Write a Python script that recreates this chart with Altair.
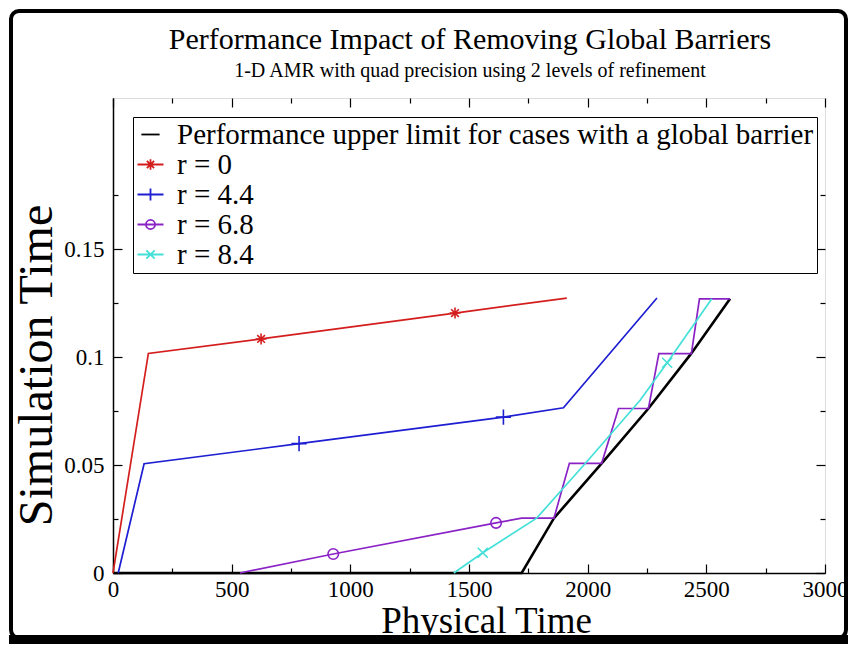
import altair as alt
import pandas as pd

# ---------------- data ----------------
title_text = "Performance Impact of Removing Global Barriers"
subtitle_text = "1-D AMR with quad precision using 2 levels of refinement"
names = ["Performance upper limit for cases with a global barrier",
         "r = 0", "r = 4.4", "r = 6.8", "r = 8.4"]
colors = ["#000000", "#d41e1e", "#1e1ed2", "#8a22c6", "#44e0d8"]

black_x = [0, 1722, 1858, 2059, 2256, 2436, 2600]
black_y = [0, 0, 0.0254, 0.0508, 0.0762, 0.1016, 0.127]

red_x = [0, 149, 624, 1441, 1912]
red_y = [0, 0.1017, 0.1084, 0.1204, 0.1273]

blue_x = [22, 131, 784, 1645, 1898, 2292]
blue_y = [0, 0.0506, 0.0599, 0.0722, 0.0765, 0.1274]

purple_x = [535, 928, 1614, 1722, 1858, 1923, 2059, 2130, 2256, 2300, 2437, 2471, 2600]
purple_y = [0, 0.0088, 0.0232, 0.0254, 0.0254, 0.0508, 0.0508, 0.0762, 0.0762,
            0.1016, 0.1016, 0.127, 0.127]

cyan_x = [1436, 1558, 1785, 2000, 2221, 2335, 2523]
cyan_y = [0, 0.0094, 0.0254, 0.052, 0.080, 0.0974, 0.127]

# symbols drawn on the curves
red_mx, red_my = [624, 1441], [0.1084, 0.1204]
blue_mx, blue_my = [784, 1645], [0.0599, 0.0722]
purple_mx, purple_my = [928, 1614], [0.0088, 0.0232]
cyan_mx, cyan_my = [1558, 2335], [0.0094, 0.0974]

x_major = [0, 500, 1000, 1500, 2000, 2500, 3000]
x_minor = [250, 750, 1250, 1750, 2250, 2750]
y_major = [0, 0.05, 0.1, 0.15]
y_minor = [0.025, 0.075, 0.125, 0.175]

# ---------------- helpers ----------------
FONT = "Liberation Serif"
XS = alt.Scale(domain=[0, 3000], nice=False, zero=False)
YS = alt.Scale(domain=[0, 0.22], nice=False, zero=False)

STAR = "M-1,0L1,0M0,-1L0,1M-0.7,-0.7L0.7,0.7M-0.7,0.7L0.7,-0.7"
PLUS = "M-1,0L1,0M0,-1L0,1"
XMARK = "M-1,-1L1,1M-1,1L1,-1"

LEG = [
    "M-0.7,0L0.7,0",
    "M-1,0L1,0M0,-0.4L0,0.4M-0.28,-0.28L0.28,0.28M-0.28,0.28L0.28,-0.28",
    "M-1,0L1,0M0,-0.47L0,0.47",
    "M-1,0L1,0M-0.35,0A0.35,0.35 0 1,0 0.35,0A0.35,0.35 0 1,0 -0.35,0",
    "M-1,0L1,0M-0.32,-0.32L0.32,0.32M-0.32,0.32L0.32,-0.32",
]

series = [(names[0], black_x, black_y), (names[1], red_x, red_y),
          (names[2], blue_x, blue_y), (names[3], purple_x, purple_y),
          (names[4], cyan_x, cyan_y)]

rows = []
for name, xs, ys in series:
    for i, (a, b) in enumerate(zip(xs, ys)):
        rows.append({"series": name, "x": a, "y": b, "o": i})
all_df = pd.DataFrame(rows)


def line_layer(idx, width):
    name, xs, ys = series[idx]
    df = pd.DataFrame({"x": xs, "y": ys, "o": list(range(len(xs)))})
    return alt.Chart(df).mark_line(color=colors[idx], strokeWidth=width).encode(
        x=alt.X("x:Q", scale=XS, axis=None),
        y=alt.Y("y:Q", scale=YS, axis=None),
        order="o:Q",
    )


def marker_layer(mx, my, color, shape, size):
    df = pd.DataFrame({"x": mx, "y": my})
    return alt.Chart(df).mark_point(shape=shape, filled=False, color=color,
                                    size=size, strokeWidth=1.6, opacity=1).encode(
        x=alt.X("x:Q", scale=XS, axis=None),
        y=alt.Y("y:Q", scale=YS, axis=None),
    )


def axis_layer(xaxis, yaxis):
    return alt.Chart(all_df).mark_point(opacity=0).encode(
        x=alt.X("x:Q", scale=XS, axis=xaxis),
        y=alt.Y("y:Q", scale=YS, axis=yaxis),
    )


def tick_axis(orient, values, size):
    return alt.Axis(orient=orient, values=values, tickSize=size, offset=-size,
                    labels=False, domain=False, grid=False, title=None,
                    ticks=True, tickColor="black", tickWidth=1.2)


# main axes with labels
main_axes = axis_layer(
    alt.Axis(orient="bottom", values=x_major, ticks=False, tickSize=0, format="d",
             labelFont=FONT, labelFontSize=23, labelColor="black",
             labelPadding=5, labelFlush=False,
             domain=True, domainColor="black", domainWidth=1.5, grid=False,
             title="Physical Time", titleFont=FONT, titleFontSize=37,
             titleFontWeight="normal", titleColor="black", titlePadding=2,
             titleX=373, titleAlign="center"),
    alt.Axis(orient="left", values=y_major, ticks=False, tickSize=0, format="~g",
             labelFont=FONT, labelFontSize=23, labelColor="black",
             labelPadding=9, labelFlush=False,
             domain=True, domainColor="black", domainWidth=1.5, grid=False,
             title="Simulation Time", titleFont=FONT, titleFontSize=48,
             titleFontWeight="normal", titleColor="black", titlePadding=2,
             titleY=267, titleAlign="center"),
)
maj_bl = axis_layer(tick_axis("bottom", x_major, 9), tick_axis("left", y_major, 9))
min_bl = axis_layer(tick_axis("bottom", x_minor, 5), tick_axis("left", y_minor, 5))
maj_tr = axis_layer(tick_axis("top", x_major, 9), tick_axis("right", y_major, 9))
min_tr = axis_layer(tick_axis("top", x_minor, 5), tick_axis("right", y_minor, 5))

# legend layer (invisible points, visible legend)
leg_df = pd.DataFrame({"series": names, "x": [s[1][0] for s in series],
                       "y": [s[2][0] for s in series]})
legend_props = dict(orient="none", legendX=20, legendY=19, title=None,
                    strokeColor="black", fillColor="white", padding=3,
                    labelFont=FONT, labelFontSize=29, labelColor="black",
                    labelLimit=2000, labelOffset=12, symbolSize=676,
                    symbolStrokeWidth=1.8, symbolOpacity=1, rowPadding=-3)
legend_layer = alt.Chart(leg_df).mark_point(filled=False, opacity=0).encode(
    x=alt.X("x:Q", scale=XS, axis=None),
    y=alt.Y("y:Q", scale=YS, axis=None),
    color=alt.Color("series:N", scale=alt.Scale(domain=names, range=colors),
                    sort=names, legend=alt.Legend(**legend_props)),
    shape=alt.Shape("series:N", scale=alt.Scale(domain=names, range=LEG),
                    sort=names, legend=alt.Legend(**legend_props)),
)

# titles as text marks
one = pd.DataFrame({"a": [0]})
title_mark = alt.Chart(one).mark_text(
    text=title_text, font=FONT, fontSize=30, color="black",
    align="center", baseline="middle").encode(x=alt.value(357), y=alt.value(-58))
subtitle_mark = alt.Chart(one).mark_text(
    text=subtitle_text, font=FONT, fontSize=20, color="black",
    align="center", baseline="middle").encode(x=alt.value(357), y=alt.value(-27))

# outer picture frame (decoration)
frame = alt.Chart(one).mark_rect(fill=None, stroke="black", strokeWidth=4,
                                 cornerRadius=8).encode(
    x=alt.value(-102), x2=alt.value(733), y=alt.value(-87), y2=alt.value(540))
bottom_band = alt.Chart(one).mark_rect(fill="black").encode(
    x=alt.value(-104), x2=alt.value(735), y=alt.value(537), y2=alt.value(546))

layers = [
    main_axes, maj_bl, min_bl, maj_tr, min_tr,
    line_layer(0, 2.6), line_layer(1, 1.7), line_layer(2, 1.7),
    line_layer(3, 1.7), line_layer(4, 1.7),
    marker_layer(red_mx, red_my, colors[1], STAR, 120),
    marker_layer(blue_mx, blue_my, colors[2], PLUS, 230),
    marker_layer(purple_mx, purple_my, colors[3], "circle", 110),
    marker_layer(cyan_mx, cyan_my, colors[4], XMARK, 100),
    legend_layer, title_mark, subtitle_mark, frame, bottom_band,
]

chart = alt.layer(*layers).resolve_axis(x="independent", y="independent").properties(
    width=712, height=475,
    autosize=alt.AutoSizeParams(type="none"),
    padding={"left": 105, "top": 90, "right": 23, "bottom": 71},
).configure_view(stroke="black", strokeWidth=1.5).configure(background="white")

chart.save("out.html", embed_options={"renderer": "svg", "actions": False})
